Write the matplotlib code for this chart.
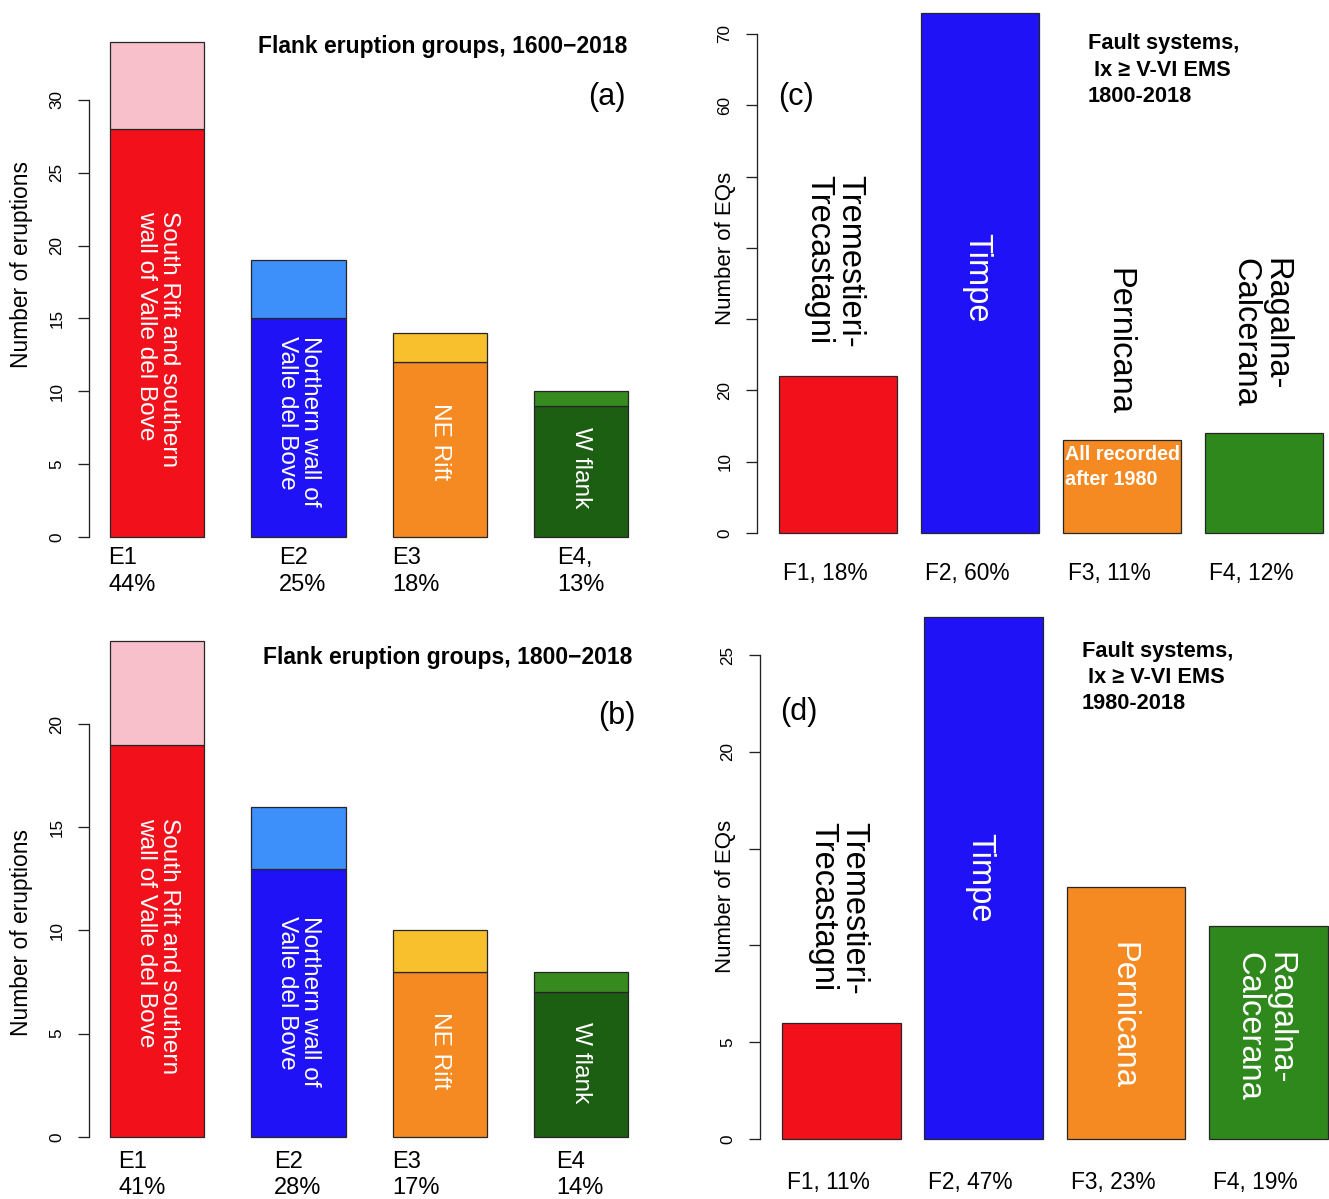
import matplotlib
matplotlib.use("Agg")
import matplotlib.pyplot as plt

W, H = 1329, 1199
plt.rcParams['font.family'] = ['Liberation Sans', 'DejaVu Sans']

# ---- data -------------------------------------------------------------
groups_1600 = ["E1", "E2", "E3", "E4,"]
groups_1800 = ["E1", "E2", "E3", "E4"]
group_names = ["South Rift and southern\nwall of Valle del Bove",
               "Northern wall of\nValle del Bove", "NE Rift", "W flank"]
lower_1600 = [28, 15, 12, 9]
total_1600 = [34, 19, 14, 10]
pct_1600 = ["44%", "25%", "18%", "13%"]
lower_1800 = [19, 13, 8, 7]
total_1800 = [24, 16, 10, 8]
pct_1800 = ["41%", "28%", "17%", "14%"]

faults = ["F1", "F2", "F3", "F4"]
fault_names = ["Tremestieri-\nTrecastagni", "Timpe", "Pernicana",
               "Ragalna-\nCalcerana"]
eq_1800 = [22, 73, 13, 14]
pct_eq_1800 = ["18%", "60%", "11%", "12%"]
eq_1980 = [6, 27, 13, 11]
pct_eq_1980 = ["11%", "47%", "23%", "19%"]

# ---- styles -----------------------------------------------------------
lower_colors = ["#F2111A", "#1F12F6", "#F58A22", "#1C5E12"]
upper_colors = ["#F8C0CB", "#3D8FFA", "#F8C02D", "#378A1E"]
fault_colors = ["#F2111A", "#1F12F6", "#F58A22", "#2F881C"]
EDGE = "#262626"
PX = 0.72  # points per pixel at 100 dpi

fig = plt.figure(figsize=(W / 100, H / 100), dpi=100)


def px_axes(x0, x1, y0, y1):
    return fig.add_axes([x0 / W, 1 - y1 / H, (x1 - x0) / W, (y1 - y0) / H])


def style_axis(ax, xlim, ylim, yticks, hidden=()):
    ax.set_xlim(*xlim)
    ax.set_ylim(*ylim)
    for s in ["top", "right", "bottom"]:
        ax.spines[s].set_visible(False)
    ax.spines["left"].set_bounds(yticks[0], yticks[-1])
    ax.spines["left"].set_linewidth(0.95)
    ax.spines["left"].set_color("#222222")
    ax.set_xticks([])
    ax.set_yticks(yticks)
    ax.set_yticklabels(["" if t in hidden else str(t) for t in yticks])
    ax.tick_params(axis="y", length=11 * PX, width=0.95, pad=10,
                   labelsize=12.3, labelrotation=90, color="#222222")
    for lab in ax.get_yticklabels():
        lab.set_va("center")
    ax.patch.set_alpha(0)


def eruption_panel(ax, groups, lower, total, pcts, inner_top, lab_dx, lab_dy,
                   lab_spacing, title, tag, title_xy, tag_xy):
    lefts = [0.5 + 1.5 * i for i in range(len(groups))]
    centers = [l + 0.5 for l in lefts]
    upper = [t - l for t, l in zip(total, lower)]
    ax.bar(centers, lower, width=1.0, color=lower_colors, edgecolor=EDGE,
           linewidth=0.9)
    ax.bar(centers, upper, width=1.0, bottom=lower, color=upper_colors,
           edgecolor=EDGE, linewidth=0.9)
    for c, name, yt in zip(centers, group_names, inner_top):
        ax.text(c, yt, name, rotation=270, ha="center", va="top",
                multialignment="left", color="white", fontsize=17.6,
                linespacing=1.05)
    for l, g, p, dx in zip(lefts, groups, pcts, lab_dx):
        ax.annotate(f"{g}\n{p}", xy=(l + dx, 0), xytext=(0, -lab_dy * PX),
                    textcoords="offset points", ha="left", va="top",
                    fontsize=17, linespacing=lab_spacing,
                    annotation_clip=False)
    ax.text(title_xy[0], title_xy[1], title, ha="right", va="center",
            fontsize=16.5, fontweight="bold")
    ax.text(tag_xy[0], tag_xy[1], tag, ha="right", va="center", fontsize=22)


def fault_panel(ax, counts, pcts, inner_top, inner_colors, lab_dy,
                header, header_xy, tag, tag_xy):
    lefts = [0.2 + 1.2 * i for i in range(len(faults))]
    centers = [l + 0.5 for l in lefts]
    ax.bar(centers, counts, width=1.0, color=fault_colors, edgecolor=EDGE,
           linewidth=0.9)
    for c, name, yt, col in zip(centers, fault_names, inner_top, inner_colors):
        ax.text(c - 0.03, yt, name, rotation=270, ha="center", va="top",
                multialignment="left", color=col, fontsize=23.5,
                linespacing=1.0)
    for c, f, p in zip(centers, faults, pcts):
        ax.annotate(f"{f}, {p}", xy=(c - 0.11, 0), xytext=(0, -lab_dy * PX),
                    textcoords="offset points", ha="center", va="center",
                    fontsize=16.4, annotation_clip=False)
    ax.text(header_xy[0], header_xy[1], header, ha="left", va="top",
            fontsize=15.7, fontweight="bold", linespacing=1.33)
    ax.text(tag_xy[0], tag_xy[1], tag, ha="left", va="center", fontsize=22)
    return lefts


# ---- (a) flank eruptions 1600-2018 -----------------------------------
ax_a = px_axes(89.3, 648.8, 21.9, 556.8)
style_axis(ax_a, (0.28, 6.22), (-1.36, 35.36), [0, 5, 10, 15, 20, 25, 30])
eruption_panel(ax_a, groups_1600, lower_1600, total_1600, pct_1600,
               inner_top=[22.4, 13.8, 9.2, 7.55],
               lab_dx=[-0.02, 0.29, 0.0, 0.25], lab_dy=10, lab_spacing=1.32,
               title="Flank eruption groups, 1600\u22122018", tag="(a)",
               title_xy=(5.99, 33.7), tag_xy=(5.97, 30.2))
fig.text(22 / W, 1 - 265 / H, "Number of eruptions", rotation=90,
         ha="center", va="center", fontsize=16.4)

# ---- (b) flank eruptions 1800-2018 -----------------------------------
ax_b = px_axes(89.3, 648.8, 621.6, 1156.8)
style_axis(ax_b, (0.28, 6.22), (-0.96, 24.96), [0, 5, 10, 15, 20])
eruption_panel(ax_b, groups_1800, lower_1800, total_1800, pct_1800,
               inner_top=[15.45, 10.7, 6.05, 5.57],
               lab_dx=[0.09, 0.24, 0.0, 0.24], lab_dy=14, lab_spacing=1.22,
               title="Flank eruption groups, 1800\u22122018", tag="(b)",
               title_xy=(6.05, 23.2), tag_xy=(6.08, 20.4))
fig.text(22 / W, 1 - 933 / H, "Number of eruptions", rotation=90,
         ha="center", va="center", fontsize=16.4)

# ---- (c) fault systems 1800-2018 -------------------------------------
ax_c = px_axes(757.2, 1345.0, -8.2, 553.8)
style_axis(ax_c, (0.016, 4.984), (-2.92, 75.92),
           [0, 10, 20, 30, 40, 50, 60, 70], hidden=(30, 40, 50))
lefts_c = fault_panel(ax_c, eq_1800, pct_eq_1800,
                      inner_top=[50.2, 42.1, 37.2, 38.6],
                      inner_colors=["black", "white", "black", "black"],
                      lab_dy=41,
                      header="Fault systems,\n Ix \u2265 V-VI EMS\n1800-2018",
                      header_xy=(2.81, 70.1), tag="(c)", tag_xy=(0.19, 61.2))
ax_c.text(lefts_c[2] + 0.017, 12.3, "All recorded\nafter 1980", ha="left",
          va="top", color="white", fontsize=14.2, fontweight="bold",
          linespacing=1.35)
fig.text(726 / W, 1 - 248 / H, "Number of EQs", rotation=90,
         ha="center", va="center", fontsize=16.0)

# ---- (d) fault systems 1980-2018 -------------------------------------
ax_d = px_axes(760.2, 1349.4, 595.6, 1159.9)
style_axis(ax_d, (0.016, 4.984), (-1.08, 28.08), [0, 5, 10, 15, 20, 25],
           hidden=(10, 15))
fault_panel(ax_d, eq_1980, pct_eq_1980,
            inner_top=[16.4, 15.8, 10.2, 9.66],
            inner_colors=["black", "white", "white", "white"],
            lab_dy=44,
            header="Fault systems,\n Ix \u2265 V-VI EMS\n1980-2018",
            header_xy=(2.73, 25.75), tag="(d)", tag_xy=(0.18, 22.05))
fig.text(726 / W, 1 - 896 / H, "Number of EQs", rotation=90,
         ha="center", va="center", fontsize=16.0)

fig.savefig("out.png", dpi=100, facecolor="white")
